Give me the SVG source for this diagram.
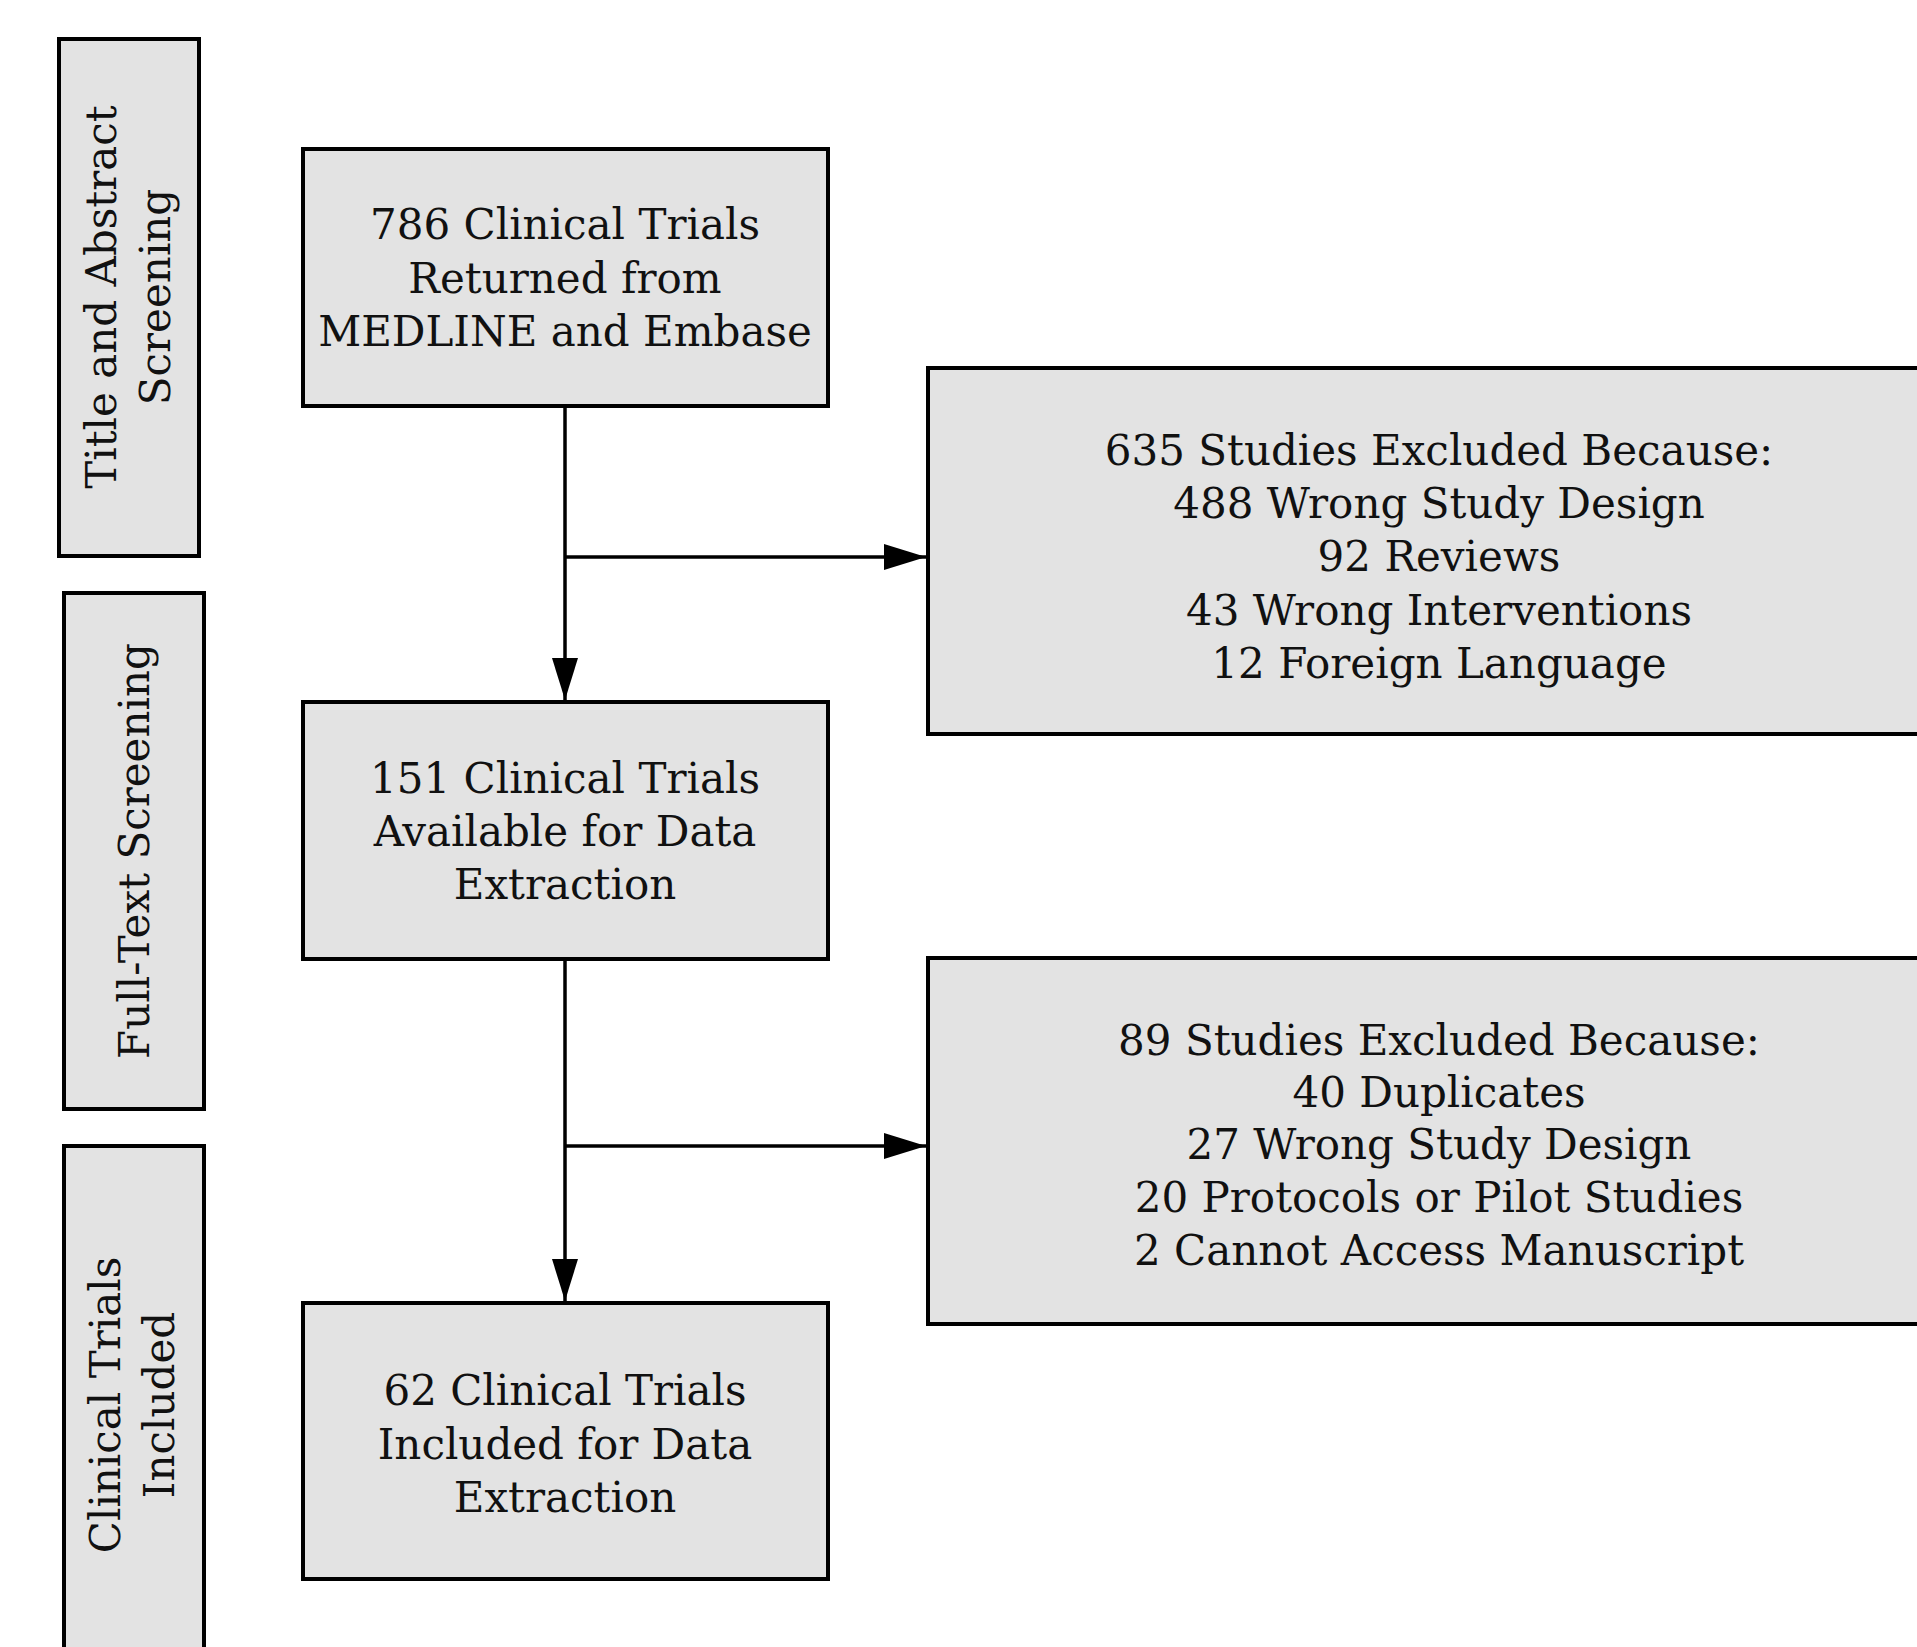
<svg xmlns="http://www.w3.org/2000/svg" width="1917" height="1647" viewBox="0 0 1917 1647">
  <style>
    .box { fill: #e3e3e3; stroke: #000; stroke-width: 4; }
    .lbl { font-family: "DejaVu Serif", "Liberation Serif", serif; font-size: 42px; fill: #111; text-anchor: middle; }
    .conn { fill: none; stroke: #000; stroke-width: 3.5; }
  </style>
  <defs>
    <marker id="arrow" markerUnits="userSpaceOnUse" markerWidth="42" markerHeight="26" refX="42" refY="13" orient="auto">
      <path d="M0,0 L42,13 L0,26 z" fill="#000"/>
    </marker>
  </defs>
  <rect width="1917" height="1647" fill="#fff"/>

  <!-- stage labels on the left -->
  <g id="stage-title-abstract">
    <rect class="box" x="59" y="39" width="140" height="517"/>
    <text class="lbl" transform="translate(116,297) rotate(-90)">Title and Abstract</text>
    <text class="lbl" transform="translate(170,297) rotate(-90)">Screening</text>
  </g>
  <g id="stage-full-text">
    <rect class="box" x="64" y="593" width="140" height="516"/>
    <text class="lbl" transform="translate(149,851) rotate(-90)">Full-Text Screening</text>
  </g>
  <g id="stage-included">
    <rect class="box" x="64" y="1146" width="140" height="520"/>
    <text class="lbl" transform="translate(120,1405) rotate(-90)">Clinical Trials</text>
    <text class="lbl" transform="translate(174,1405) rotate(-90)">Included</text>
  </g>

  <!-- main flow -->
  <g id="returned">
    <rect class="box" x="303" y="149" width="525" height="257"/>
    <text class="lbl" x="565" y="239">786 Clinical Trials</text>
    <text class="lbl" x="565" y="293">Returned from</text>
    <text class="lbl" x="565" y="346">MEDLINE and Embase</text>
  </g>
  <g id="available">
    <rect class="box" x="303" y="702" width="525" height="257"/>
    <text class="lbl" x="565" y="793">151 Clinical Trials</text>
    <text class="lbl" x="565" y="846">Available for Data</text>
    <text class="lbl" x="565" y="899">Extraction</text>
  </g>
  <g id="included">
    <rect class="box" x="303" y="1303" width="525" height="276"/>
    <text class="lbl" x="565" y="1405">62 Clinical Trials</text>
    <text class="lbl" x="565" y="1459">Included for Data</text>
    <text class="lbl" x="565" y="1512">Extraction</text>
  </g>

  <!-- exclusion boxes -->
  <g id="excluded-1">
    <rect class="box" x="928" y="368" width="1040" height="366"/>
    <text class="lbl" x="1439" y="465">635 Studies Excluded Because:</text>
    <text class="lbl" x="1439" y="518">488 Wrong Study Design</text>
    <text class="lbl" x="1439" y="571">92 Reviews</text>
    <text class="lbl" x="1439" y="625">43 Wrong Interventions</text>
    <text class="lbl" x="1439" y="678">12 Foreign Language</text>
  </g>
  <g id="excluded-2">
    <rect class="box" x="928" y="958" width="1040" height="366"/>
    <text class="lbl" x="1439" y="1055">89 Studies Excluded Because:</text>
    <text class="lbl" x="1439" y="1107">40 Duplicates</text>
    <text class="lbl" x="1439" y="1159">27 Wrong Study Design</text>
    <text class="lbl" x="1439" y="1212">20 Protocols or Pilot Studies</text>
    <text class="lbl" x="1439" y="1265">2 Cannot Access Manuscript</text>
  </g>

  <!-- connectors -->
  <g id="connectors">
    <path class="conn" d="M565,406 L565,700" marker-end="url(#arrow)"/>
    <path class="conn" d="M565,557 L926,557" marker-end="url(#arrow)"/>
    <path class="conn" d="M565,959 L565,1301" marker-end="url(#arrow)"/>
    <path class="conn" d="M565,1146 L926,1146" marker-end="url(#arrow)"/>
  </g>
</svg>
